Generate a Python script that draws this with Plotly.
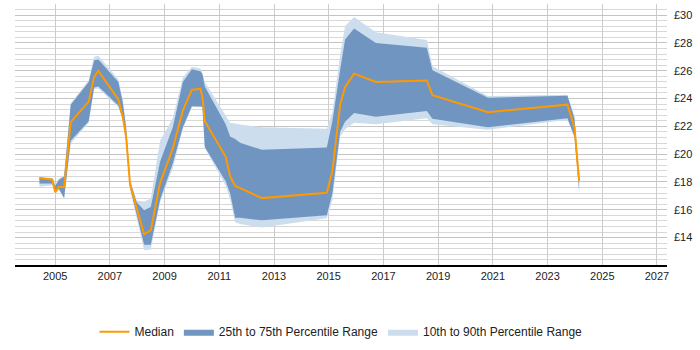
import plotly.graph_objects as go

dates = ["2004-06-05", "2004-11-25", "2005-01-01", "2005-02-19", "2005-05-01", "2005-07-28",
         "2006-03-25", "2006-06-05", "2006-08-01", "2007-04-25", "2007-06-22", "2007-08-06",
         "2007-09-28", "2007-12-26", "2008-04-03", "2008-07-01", "2008-11-02", "2009-04-21",
         "2009-09-02", "2009-12-31", "2010-04-24", "2010-05-21", "2010-06-22", "2011-03-29",
         "2011-05-26", "2011-08-01", "2011-10-06", "2012-07-23", "2014-12-07", "2015-02-20",
         "2015-06-03", "2015-08-08", "2015-12-06", "2016-09-22", "2018-08-03", "2018-10-18",
         "2020-10-27", "2023-09-24", "2023-12-27", "2024-02-27"]

median = [18.29, 18.16, 17.27, 17.66, 17.62, 22.31, 23.78, 25.56, 25.99, 23.93, 22.70, 21.28,
          17.82, 16.08, 14.24, 14.52, 17.92, 20.42, 23.13, 24.62, 24.71, 24.10, 22.37, 19.81,
          18.42, 17.71, 17.56, 16.84, 17.23, 18.79, 23.56, 24.82, 25.79, 25.19, 25.30, 24.24,
          23.02, 23.56, 21.93, 18.08]

p75 = [18.33, 18.23, 17.71, 18.14, 18.40, 23.56, 25.19, 26.75, 26.81, 25.19, 23.76, 21.93,
       18.03, 16.54, 15.97, 16.21, 19.46, 21.93, 25.19, 26.10, 25.97, 25.77, 24.86, 22.13,
       21.28, 21.09, 20.83, 20.31, 20.48, 22.39, 26.05, 28.24, 29.04, 28.00, 27.66, 26.03,
       24.06, 24.21, 22.54, 18.29]

p25 = [17.90, 17.90, 17.22, 17.51, 16.84, 20.96, 22.37, 24.80, 24.86, 23.50, 22.59, 20.96,
       17.60, 15.63, 13.48, 13.48, 16.73, 19.33, 21.93, 23.45, 23.45, 23.43, 20.52, 18.03,
       17.19, 15.43, 15.43, 15.24, 15.61, 17.19, 21.61, 22.33, 22.96, 22.70, 23.11, 22.55,
       21.93, 22.59, 21.28, 17.38]

p90 = [18.36, 18.29, 17.77, 18.23, 18.49, 23.67, 25.32, 27.01, 27.07, 25.38, 23.89, 22.07,
       18.23, 16.67, 16.60, 16.80, 20.96, 22.59, 25.51, 26.29, 26.16, 25.84, 25.19, 22.72,
       22.26, 22.20, 22.13, 21.93, 21.82, 23.04, 27.14, 29.22, 29.87, 28.76, 28.21, 26.33,
       24.18, 24.28, 22.72, 18.36]

p10 = [17.66, 17.77, 17.12, 17.45, 16.80, 20.76, 22.26, 24.67, 24.73, 23.37, 22.46, 20.83,
       17.45, 15.43, 13.09, 13.15, 16.54, 19.01, 21.80, 23.40, 23.40, 23.37, 20.44, 17.71,
       16.73, 15.11, 14.98, 14.72, 15.39, 16.73, 21.28, 21.80, 22.26, 22.15, 22.59, 22.15,
       21.76, 22.47, 21.15, 17.25]

tick_years = ["2005", "2007", "2009", "2011", "2013", "2015", "2017", "2019", "2021", "2023", "2025", "2027"]

LIGHT = "rgba(204,221,238,1)"
DARK = "rgba(108,147,190,0.97)"
ORANGE = "#FF9900"
Y_RANGE = [12.03, 30.8]

fig = go.Figure()
fig.add_trace(go.Scatter(x=dates, y=p10, mode="lines", line=dict(width=0, color=LIGHT),
                         showlegend=False, hoverinfo="skip"))
fig.add_trace(go.Scatter(x=dates, y=p90, mode="lines", line=dict(width=0, color=LIGHT),
                         fill="tonexty", fillcolor=LIGHT, name="10th to 90th Percentile Range",
                         legendrank=3))
fig.add_trace(go.Scatter(x=dates, y=p25, mode="lines", line=dict(width=0, color=DARK),
                         showlegend=False, hoverinfo="skip"))
fig.add_trace(go.Scatter(x=dates, y=p75, mode="lines", line=dict(width=0, color=DARK),
                         fill="tonexty", fillcolor=DARK, name="25th to 75th Percentile Range",
                         legendrank=2))
fig.add_trace(go.Scatter(x=dates, y=median, mode="lines", line=dict(width=2, color=ORANGE),
                         name="Median", legendrank=1))

fig.update_layout(
    width=700, height=350,
    margin=dict(l=15, r=33, t=4, b=58),
    paper_bgcolor="white", plot_bgcolor="white",
    font=dict(family="Liberation Sans, Arial, sans-serif", size=11, color="#222"),
    showlegend=True,
    legend=dict(orientation="h", x=0.5, xanchor="center", y=-0.2, yanchor="top",
                font=dict(size=12, color="#222"), traceorder="normal"),
    xaxis=dict(
        type="date",
        range=["2003-07-15", "2027-05-15"],
        tickvals=[f"{y}-01-01" for y in tick_years],
        ticktext=tick_years,
        showgrid=True, gridcolor="#cccccc", gridwidth=1,
        showline=True, linecolor="#000", linewidth=1.5,
        ticks="", zeroline=False,
    ),
    yaxis=dict(
        side="right",
        range=Y_RANGE,
        tickmode="linear", tick0=12, dtick=2, tickprefix="£",
        showgrid=True, gridcolor="#c4c4c4", gridwidth=1,
        minor=dict(tickmode="linear", tick0=12, dtick=0.4, showgrid=True,
                   gridcolor="#d8d8d8", gridwidth=1),
        showline=False, zeroline=False, ticks="",
        ticklabelstandoff=6,
    ),
)

fig.write_html("out.html")
